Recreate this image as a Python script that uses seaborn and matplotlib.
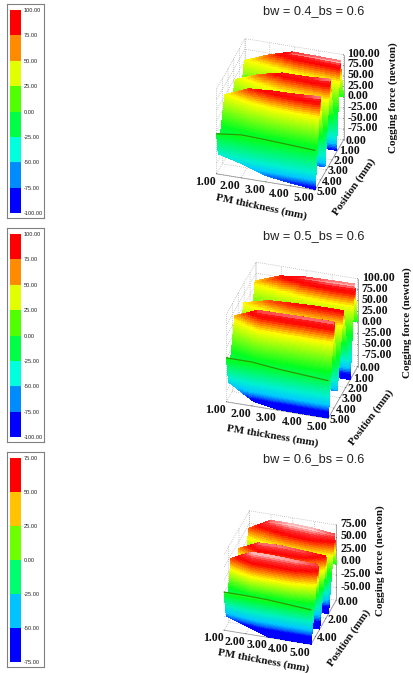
import numpy as np
import matplotlib
matplotlib.use("Agg")
import matplotlib.pyplot as plt
import seaborn as sns
from matplotlib.colors import ListedColormap, LinearSegmentedColormap, Normalize
from mpl_toolkits.mplot3d import proj3d

sns.set_theme(style="white")
W, H = 413, 673
SERIF = "Liberation Serif"
SANS = "Liberation Sans"

thickness = [1.0, 2.0, 3.0, 4.0, 5.0]

# Values: per thickness, the position and force of each ridge crest / trough.
titles = ["bw = 0.4_bs = 0.6", "bw = 0.5_bs = 0.6", "bw = 0.6_bs = 0.6"]
zlims = [(-100, 100), (-100, 100), (-75, 75)]
pmax = [5.0, 5.0, 4.9]
ztick_vals = [[-75, -50, -25, 0, 25, 50, 75, 100],
              [-75, -50, -25, 0, 25, 50, 75, 100],
              [-50, -25, 0, 25, 50, 75]]
ptick_vals = [[0, 1, 2, 3, 4, 5], [0, 1, 2, 3, 4, 5], [0, 2, 4]]

p1_pos = [[0, 0, 0, 0, 0],
          [.15, .2, .4, .5, .6],
          [1.2, 1.25, 1.25, 1.25, 1.25],
          [1.75, 2.0, 2.2, 2.3, 2.35],
          [3.2, 3.2, 3.25, 3.25, 3.25],
          [3.55, 3.75, 3.95, 4.05, 4.1],
          [4.7, 4.8, 4.9, 4.93, 4.95],
          [5, 5, 5, 5, 5]]
p1_z = [[-6, 1, -1, -4, 2],
        [52, 76, 97, 99, 100],
        [-75, -85, -90, -95, -95],
        [45, 72, 90, 93, 98],
        [-70, -78, -85, -87, -87],
        [52, 80, 89, 93, 98],
        [-60, -72, -88, -95, -100],
        [-6, 1, -1, -4, -7]]

p2_pos = [[0, 0, 0, 0, 0],
          [.15, .2, .4, .5, .5],
          [1.2, 1.25, 1.25, 1.25, 1.25],
          [2.05, 2.2, 2.4, 2.4, 2.4],
          [3.4, 3.4, 3.45, 3.45, 3.45],
          [3.6, 4.0, 4.0, 4.0, 4.0],
          [4.65, 4.85, 4.93, 4.95, 4.95],
          [5, 5, 5, 5, 5]]
p2_z = [[0, 0, -3, -6, 2],
        [61, 83, 95, 99, 100],
        [-90, -100, -100, -100, -100],
        [56, 74, 82, 84, 84],
        [-70, -74, -74, -74, -74],
        [63, 94, 95, 96, 96],
        [-63, -92, -100, -100, -100],
        [0, 0, -6, -10, -14]]

p3_pos = [[0, 0, 0, 0, 0],
          [.1, .12, .35, .45, .3],
          [1.4, 1.5, 1.5, 1.5, 1.5],
          [2.0, 2.5, 2.45, 2.45, 2.0],
          [3.1, 3.2, 3.2, 3.2, 3.2],
          [3.55, 3.8, 3.8, 3.8, 3.55],
          [4.45, 4.7, 4.85, 4.87, 4.87],
          [4.9, 4.9, 4.9, 4.9, 4.9]]
p3_z = [[0, 0, 0, -3, -3],
        [42, 65, 70, 70, 62],
        [-75, -75, -75, -75, -75],
        [36, 63, 64, 61, 49],
        [-70, -75, -75, -75, -75],
        [44, 68, 68, 66, 60],
        [-55, -63, -75, -75, -75],
        [1, 1, 0, -3, -6]]

positions = [p1_pos, p2_pos, p3_pos]
forces = [p1_z, p2_z, p3_z]

# surface colour ramps (fraction of z range, colour)
ramps = [
    [(0, "#0000ff"), (.02, "#0000ff"), (.06, "#0060ff"), (.11, "#00c8ff"), (.2, "#00f0d0"), (.47, "#00ff20"), (.78, "#ffff00"), (.93, "#ff0000"), (.97, "#ff1a1a"), (1, "#ffb0b0")],
    [(0, "#0000ff"), (.07, "#0000ff"), (.10, "#0060ff"), (.15, "#00c8ff"), (.25, "#00f0d0"), (.48, "#00ff20"), (.78, "#ffff00"), (.92, "#ff0000"), (.96, "#ff1a1a"), (1, "#ffb0b0")],
    [(0, "#0000ff"), (.10, "#0000ff"), (.13, "#0060ff"), (.19, "#00c8ff"), (.30, "#00f0c0"), (.47, "#00ff20"), (.68, "#ffff00"), (.84, "#ff0000"), (.90, "#ff3030"), (.98, "#fff0f0"), (1, "#ffffff")],
]

# legends
legend_levels = [[87.5, 62.5, 37.5, 12.5, -12.5, -37.5, -62.5, -87.5],
                 [87.5, 62.5, 37.5, 12.5, -12.5, -37.5, -62.5, -87.5],
                 [62.5, 37.5, 12.5, -12.5, -37.5, -62.5]]
legend_colors = [["#ff0000", "#ff8c00", "#e1ff00", "#50ff00", "#00ff46", "#00ffdc", "#008cff", "#0000ff"],
                 ["#ff0000", "#ff8c00", "#e1ff00", "#50ff00", "#00ff46", "#00ffdc", "#008cff", "#0000ff"],
                 ["#ff0000", "#ffc300", "#6eff00", "#00ff6e", "#00c3ff", "#0000ff"]]
legend_ticks = [["100.00", "75.00", "50.00", "25.00", "0.00", "-25.00", "-50.00", "-75.00", "-100.00"],
                ["100.00", "75.00", "50.00", "25.00", "0.00", "-25.00", "-50.00", "-75.00", "-100.00"],
                ["75.00", "50.00", "25.00", "0.00", "-25.00", "-50.00", "-75.00"]]

# layout in pixels
legend_box = [(7, 4, 44, 218), (7, 228, 44, 442), (7, 452, 44, 667)]
corner_px = [
    dict(A=(216.7, 174), B=(315, 190), C=(343.3, 140), E=(216.7, 88.3)),
    dict(A=(226, 401), B=(328.3, 417.3), C=(358.3, 368.3), E=(226, 314.3)),
    dict(A=(224.3, 630.7), B=(310, 644.7), C=(336.7, 599.7), E=(224.3, 554.7)),
]
title_xy = [(314, 11), (314, 236), (314, 459)]
xlabel = [(261, 207, -12), (272, 436, -9.5), (263, 661, -10.5)]
plabel = [(354, 187, 55), (371, 417, 53), (349, 638, 55)]
zlabel = [(393, 98), (407, 323), (380, 561)]

fig = plt.figure(figsize=(W / 100, H / 100), dpi=100, facecolor="white")


def rect(x0, y0, x1, y1):
    return [x0 / W, 1 - y1 / H, (x1 - x0) / W, (y1 - y0) / H]


def legend(i):
    x0, y0, x1, y1 = legend_box[i]
    box = fig.add_axes(rect(x0, y0, x1, y1), zorder=0)
    box.set_xticks([])
    box.set_yticks([])
    for s in box.spines.values():
        s.set_visible(True)
        s.set_color("#808080")
        s.set_linewidth(0.8)
    ax = fig.add_axes(rect(10, y0 + 6, 20.5, y1 - 5), zorder=1)
    vals = np.array(legend_levels[i]).reshape(-1, 1)
    sns.heatmap(vals, ax=ax, cmap=ListedColormap(legend_colors[i][::-1]), cbar=False,
                xticklabels=False, yticklabels=False)
    ax.yaxis.tick_right()
    ax.set_yticks(np.arange(len(legend_ticks[i])))
    ax.set_yticklabels(legend_ticks[i], fontsize=4.1, family=SANS, color="#222222", rotation=0)
    ax.tick_params(axis="y", length=0, pad=2.5, right=False)


def fit(ax, target, keys="ABCE"):
    z0, z1 = ax.get_zlim()
    pm = ax.get_ylim()[0]
    xyz = dict(A=(1, pm, z0), B=(5, pm, z0), C=(5, 0, z0), E=(1, pm, z1))
    tgt = np.array([target[k] for k in keys], float)
    for _ in range(3):
        ax.apply_aspect()
        pts = []
        for k in keys:
            xd, yd, _z = proj3d.proj_transform(*xyz[k], ax.get_proj())
            px = ax.transData.transform((xd, yd))
            pts.append((px[0], H - px[1]))
        pts = np.array(pts)
        s = np.sum(np.linalg.norm(tgt - tgt.mean(0), axis=1)) / np.sum(np.linalg.norm(pts - pts.mean(0), axis=1))
        b = ax.get_position()
        size = b.width * W * s
        cx = (b.x0 + b.width / 2) * W
        cy = (1 - b.y0 - b.height / 2) * H
        dmean = (tgt.mean(0) - (pts.mean(0) - np.array([cx, cy])) * s - np.array([cx, cy]))
        nx, ny = cx + dmean[0], cy + dmean[1]
        ax.set_position([(nx - size / 2) / W, 1 - (ny + size / 2) / H, size / W, size / H])


def surface(i):
    ax = fig.add_axes([0.4, 0.4, 0.5, 0.5 * W / H], projection="3d", computed_zorder=False, zorder=2)
    ax.patch.set_visible(False)
    ax.set_proj_type("ortho")
    z0, z1 = zlims[i]
    ax.set_xlim(1, 5)
    ax.set_ylim(pmax[i], 0)
    ax.set_zlim(z0, z1)
    ax.set_box_aspect((1, 0.95, 0.98))
    ax.view_init(elev=32.4, azim=-73)
    fit(ax, corner_px[i])

    # Facets of the read surface are only subdivided so the colour can vary smoothly over them.
    xf = np.linspace(1, 5, 41)
    P = np.array(positions[i], float)
    Z = np.array(forces[i], float)
    Pc = np.array([np.interp(xf, thickness, r) for r in P])
    Zc = np.array([np.interp(xf, thickness, r) for r in Z])
    n = 45
    idx = np.linspace(0, P.shape[0] - 1, (P.shape[0] - 1) * n + 1)
    ind = np.arange(P.shape[0])
    Pf = np.array([np.interp(idx, ind, Pc[:, c]) for c in range(len(xf))])
    Zf = np.array([np.interp(idx, ind, Zc[:, c]) for c in range(len(xf))])
    Xf = np.repeat(xf[:, None], len(idx), axis=1)
    cmap = LinearSegmentedColormap.from_list("r", ramps[i], N=512)
    fc = cmap(Normalize(z0, z1)(Zf))
    ax.plot_surface(Xf, Pf, Zf, facecolors=fc, rstride=1, cstride=1, linewidth=0,
                    antialiased=False, shade=False, zorder=1)
    ax.plot(thickness, P[-1], Z[-1], color="#2a9a00", lw=0.9, zorder=2)

    ax.set_xticks(thickness)
    ax.set_yticks(ptick_vals[i])
    ax.set_zticks(ztick_vals[i])
    ax.set_xticklabels([f"{v:.2f}" for v in thickness])
    ax.set_yticklabels([f"{v:.2f}" for v in ptick_vals[i]])
    ax.set_zticklabels([f"{v:.2f}" for v in ztick_vals[i]])
    for a in (ax.xaxis, ax.yaxis, ax.zaxis):
        a.set_pane_color((1, 1, 1, 0))
        a.pane.set_edgecolor("#999999")
        a.pane.set_linewidth(0.6)
        a.line.set_color("#999999")
        a.line.set_linewidth(0.6)
        a._axinfo["grid"].update(color="#999999", linewidth=0.5, linestyle=(0, (1, 2)))
        a._axinfo["tick"].update(inward_factor=0, outward_factor=0.03, linewidth={True: 0.5, False: 0.5}, color="#808080")
        for t in a.get_ticklabels():
            t.set_fontfamily(SERIF)
            t.set_fontweight("bold")
            t.set_fontsize(8.6)
            t.set_color("#111111")
    ax.zaxis.set_ticks_position("lower")
    ax.tick_params(axis="x", pad=-7)
    ax.tick_params(axis="y", pad=-7)
    ax.tick_params(axis="z", pad=-6)
    for a, ha, va in ((ax.xaxis, "right", "top"), (ax.yaxis, "left", "center"), (ax.zaxis, "left", "center")):
        for t in a.get_ticklabels():
            t.set_ha(ha)
            t.set_va(va)

    def ftext(x, y, s, **k):
        fig.text(x / W, 1 - y / H, s, ha="center", va="center", **k)
    ftext(*title_xy[i], titles[i], family=SANS, fontsize=9.2, color="#222222")
    lab = dict(family=SERIF, weight="bold", fontsize=8, color="#111111", rotation_mode="anchor")
    ftext(xlabel[i][0], xlabel[i][1], "PM thickness (mm)", rotation=xlabel[i][2], **lab)
    ftext(plabel[i][0], plabel[i][1], "Position (mm)", rotation=plabel[i][2], **lab)
    ftext(zlabel[i][0], zlabel[i][1], "Cogging force (newton)", rotation=90, **lab)


for i in range(3):
    legend(i)
    surface(i)

fig.savefig("out.png", dpi=100, facecolor="white")
